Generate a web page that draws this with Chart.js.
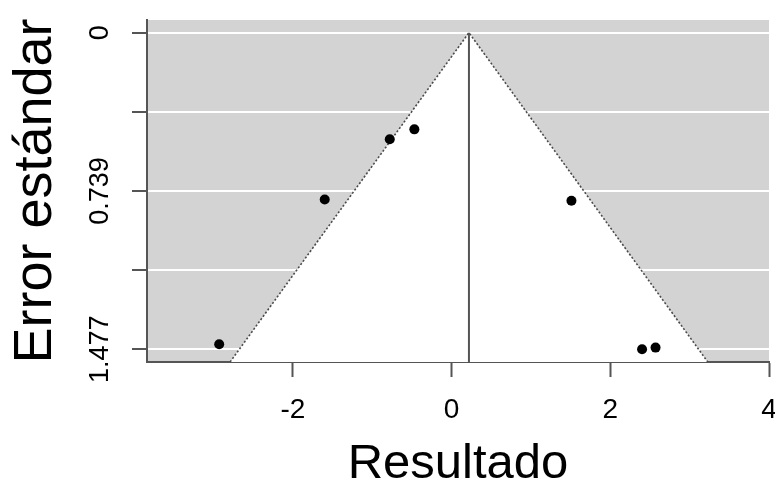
<!DOCTYPE html>
<html>
<head>
<meta charset="utf-8">
<script src="https://cdn.jsdelivr.net/npm/chart.js@4"></script>
<style>
  html, body { margin: 0; padding: 0; background: #ffffff; }
  #wrap { width: 775px; height: 494px; }
</style>
</head>
<body>
<div id="wrap"><canvas id="funnel" width="775" height="494"></canvas></div>
<script>
// Study results (effect size) and their standard errors
const effectSizes    = [-2.93, -1.60, -0.78, -0.47, 1.51, 2.40, 2.57];
const standardErrors = [1.453, 0.778, 0.497, 0.451, 0.784, 1.477, 1.469];

// Pooled estimate and critical value of the pseudo-confidence funnel
const pooledEstimate = 0.218;
const zCritical = 1.96;

// Axis ranges and ticks
const xRange = [-3.84, 4.0];
const yRange = [-0.05908, 1.53608];
const xTickValues = [-2, 0, 2, 4];
const yTickValues = [0, 0.36925, 0.7385, 1.10775, 1.477];
const yTickLabels = ['0', '', '0.739', '', '1.477'];

const FONT = "'Liberation Sans', Arial, sans-serif";
const AXIS_GRAY = '#555555';

// Points and helper tables built from the arrays above
const studyPoints = effectSizes.map((x, i) => ({ x: x, y: standardErrors[i] }));
const funnelBottom = yRange[1];
const funnelPoints = [
  { x: pooledEstimate - zCritical * funnelBottom, y: funnelBottom },
  { x: pooledEstimate, y: 0 },
  { x: pooledEstimate + zCritical * funnelBottom, y: funnelBottom }
];
const estimateLine = [
  { x: pooledEstimate, y: 0 },
  { x: pooledEstimate, y: funnelBottom }
];

// Light gray panel behind the plotting region
const panelBackground = {
  id: 'panelBackground',
  beforeDraw(chart) {
    const { ctx, chartArea: a } = chart;
    ctx.save();
    ctx.fillStyle = '#d3d3d3';
    ctx.fillRect(a.left, a.top, a.right - a.left, a.bottom - a.top);
    ctx.restore();
  }
};

new Chart(document.getElementById('funnel'), {
  type: 'scatter',
  data: {
    datasets: [
      {
        label: 'Estudios',
        data: studyPoints,
        pointRadius: 5,
        pointHoverRadius: 5,
        pointBackgroundColor: '#000000',
        pointBorderWidth: 0
      },
      {
        type: 'line',
        label: 'Estimación',
        data: estimateLine,
        borderColor: AXIS_GRAY,
        borderWidth: 2,
        pointRadius: 0,
        fill: false
      },
      {
        type: 'line',
        label: 'Embudo',
        data: funnelPoints,
        borderColor: '#4a4a4a',
        borderWidth: 1.6,
        borderDash: [2, 2],
        backgroundColor: '#ffffff',
        pointRadius: 0,
        tension: 0,
        fill: 'start'
      }
    ]
  },
  options: {
    responsive: false,
    animation: false,
    devicePixelRatio: 1,
    layout: { padding: { top: 20, right: 6, left: 0, bottom: 0 } },
    plugins: {
      legend: { display: false },
      tooltip: { enabled: false }
    },
    scales: {
      x: {
        type: 'linear',
        position: 'bottom',
        min: xRange[0],
        max: xRange[1],
        afterBuildTicks: s => { s.ticks = xTickValues.map(v => ({ value: v })); },
        afterFit: s => { s.height = 132; s.paddingLeft = 0; s.paddingRight = 0; },
        ticks: {
          autoSkip: false,
          maxRotation: 0,
          padding: 16,
          color: '#000000',
          font: { family: FONT, size: 28 }
        },
        grid: {
          drawOnChartArea: false,
          tickLength: 15,
          tickWidth: 2,
          tickColor: AXIS_GRAY
        },
        border: { display: true, color: AXIS_GRAY, width: 2 },
        title: {
          display: true,
          text: 'Resultado',
          color: '#000000',
          font: { family: FONT, size: 49 },
          padding: { top: 0, bottom: 0 }
        }
      },
      y: {
        type: 'linear',
        position: 'left',
        reverse: true,
        min: yRange[0],
        max: yRange[1],
        afterBuildTicks: s => { s.ticks = yTickValues.map(v => ({ value: v })); },
        afterFit: s => { s.width = 147; s.paddingTop = 0; s.paddingBottom = 0; },
        ticks: {
          autoSkip: false,
          minRotation: 90,
          maxRotation: 90,
          crossAlign: 'center',
          padding: -2,
          color: '#000000',
          font: { family: FONT, size: 27 },
          callback: (value, index) => yTickLabels[index]
        },
        grid: {
          color: '#ffffff',
          lineWidth: 2,
          tickLength: 15,
          tickWidth: 2,
          tickColor: AXIS_GRAY
        },
        border: { display: true, color: AXIS_GRAY, width: 2 },
        title: {
          display: true,
          text: 'Error estándar',
          color: '#000000',
          font: { family: FONT, size: 54 },
          padding: { top: 4, bottom: 0 }
        }
      }
    }
  },
  plugins: [panelBackground]
});
</script>
</body>
</html>
